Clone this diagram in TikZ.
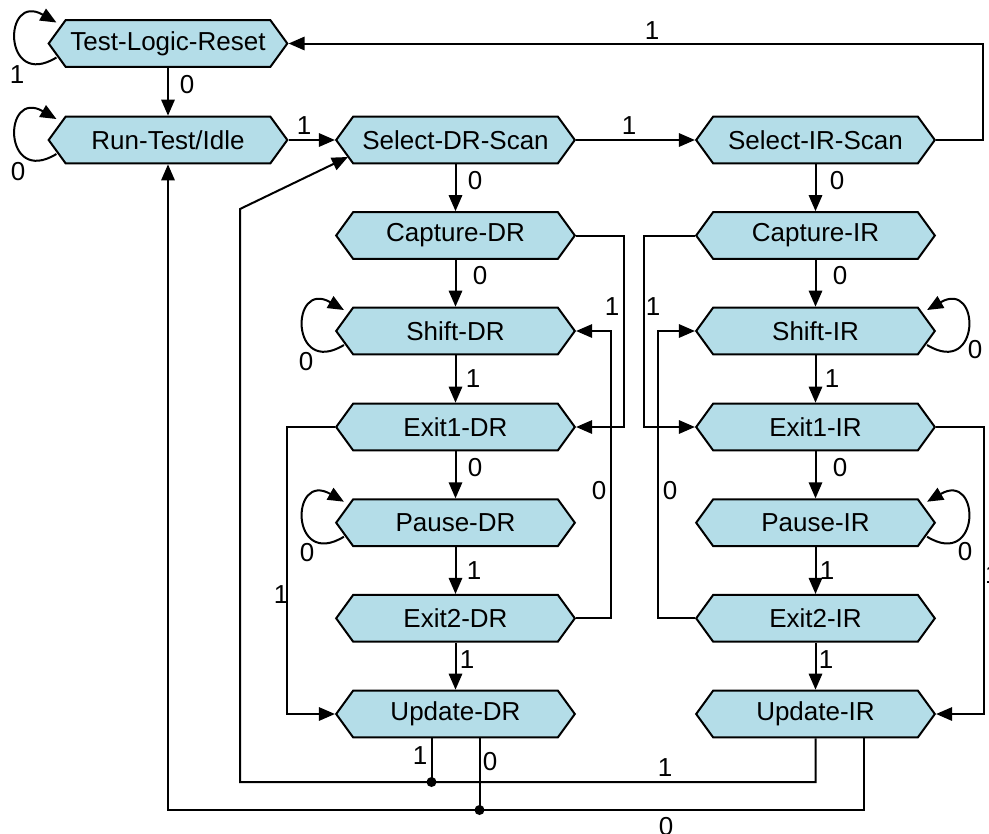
\documentclass[tikz,border=0pt]{standalone}
\usepackage{fontspec}
\setmainfont{Liberation Sans}
\usetikzlibrary{shapes.symbols,arrows.meta,calc}
\definecolor{stateblue}{RGB}{180,221,232}
\tikzset{every picture/.style={line width=1.5pt}}
\tikzset{
  state/.style={signal, signal to=east and west, signal pointer angle=108, draw, fill=stateblue,
    minimum width=179pt, minimum height=35pt, inner sep=0pt, font=\fontsize{19.5}{23}\selectfont},
  lbl/.style={inner sep=0.75pt, font=\fontsize{19.5}{23}\selectfont},
  arr/.style={-{Triangle[length=12pt,width=10pt]}},
}
\begin{document}
\begin{tikzpicture}[x=0.75pt,y=0.75pt,yscale=-1,xscale=1]
	\useasboundingbox (0,0) rectangle (989,833);
	
	%States
	\node[state] (tlr) at (168,43.5) {Test-Logic-Reset};
	\node[state] (rti) at (168,140) {Run-Test/Idle};
	\node[state] (sdr) at (455.5,140) {Select-DR-Scan};
	\node[state] (sir) at (815.5,140) {Select-IR-Scan};
	\node[state] (cdr) at (455.5,235.5) {Capture-DR};
	\node[state] (cir) at (815.5,235.5) {Capture-IR};
	\node[state] (shdr) at (455.5,331) {Shift-DR};
	\node[state] (shir) at (815.5,331) {Shift-IR};
	\node[state] (e1dr) at (455.5,427) {Exit1-DR};
	\node[state] (e1ir) at (815.5,427) {Exit1-IR};
	\node[state] (pdr) at (455.5,522.7) {Pause-DR};
	\node[state] (pir) at (815.5,522.7) {Pause-IR};
	\node[state] (e2dr) at (455.5,618.3) {Exit2-DR};
	\node[state] (e2ir) at (815.5,618.3) {Exit2-IR};
	\node[state] (udr) at (455.5,714) {Update-DR};
	\node[state] (uir) at (815.5,714) {Update-IR};
	\coordinate (dot1) at (431.5,782);
	\coordinate (dot0) at (479.5,810);
	
	%Self loops
	\foreach \n in {tlr,rti,shdr,pdr}
		\draw[arr] ($(\n.west)+(9,14)$) .. controls +(-54,33) and +(-54,-31) .. ($(\n.west)+(9,-21)$);
	\foreach \n in {shir,pir}
		\draw[arr] ($(\n.east)+(-9,14)$) .. controls +(54,33) and +(54,-31) .. ($(\n.east)+(-9,-21)$);
	
	%Straight steps
	\foreach \a/\b in {tlr/rti,sdr/cdr,cdr/shdr,shdr/e1dr,e1dr/pdr,pdr/e2dr,e2dr/udr,
		sir/cir,cir/shir,shir/e1ir,e1ir/pir,pir/e2ir,e2ir/uir}
		\draw[arr] (\a.south) -- (\b.north);
	\draw[arr] (rti.east) -- (sdr.west);
	\draw[arr] (sdr.east) -- (sir.west);
	
	%Side returns
	\draw[arr] (sir.east) -- ++(47,0) |- (tlr.east);
	\draw[arr] (cdr.east) -- ++(48,0) |- (e1dr.east);
	\draw[arr] (e2dr.east) -- ++(35,0) |- (shdr.east);
	\draw[arr] (e1dr.west) -- ++(-48,0) |- (udr.west);
	\draw[arr] (cir.west) -- ++(-51,0) |- (e1ir.west);
	\draw[arr] (e2ir.west) -- ++(-37,0) |- (shir.west);
	\draw[arr] (e1ir.east) -- ++(48,0) |- (uir.east);
	
	%Update returns
	\draw ($(udr.south)+(-24,0)$) -- (dot1);
	\draw ($(udr.south)+(24,0)$) -- (dot0);
	\draw[arr] (uir.south) |- (dot1) -| (240,209) -- ($(sdr.west)+(13,17)$);
	\draw[arr] ($(uir.south)+(48,0)$) |- (dot0) -| (rti.south);
	\fill (dot1) circle (5);
	\fill (dot0) circle (5);
	
	%Labels
	\node[lbl] at (17,75) {1};
	\node[lbl] at (187,85) {0};
	\node[lbl] at (18,172) {0};
	\node[lbl] at (304,126) {1};
	\node[lbl] at (629,126) {1};
	\node[lbl] at (652,31) {1};
	\node[lbl] at (475,181) {0};
	\node[lbl] at (480,276) {0};
	\node[lbl] at (612,307) {1};
	\node[lbl] at (306,362) {0};
	\node[lbl] at (473,379) {1};
	\node[lbl] at (475,468) {0};
	\node[lbl] at (599,491) {0};
	\node[lbl] at (281,595) {1};
	\node[lbl] at (307,553) {0};
	\node[lbl] at (474,571) {1};
	\node[lbl] at (467,660) {1};
	\node[lbl] at (420,756) {1};
	\node[lbl] at (490,762) {0};
	\node[lbl] at (837,181) {0};
	\node[lbl] at (840,276) {0};
	\node[lbl] at (653,307) {1};
	\node[lbl] at (975,350) {0};
	\node[lbl] at (832,379) {1};
	\node[lbl] at (840,468) {0};
	\node[lbl] at (670,491) {0};
	\node[lbl] at (965,552) {0};
	\node[lbl] at (827,571) {1};
	\node[lbl] at (826,660) {1};
	\node[lbl] at (665,768) {1};
	\node[lbl] at (666,827) {0};
	\node[lbl,anchor=west,inner sep=0pt] at (984,575) {1};
	
\end{tikzpicture}
\end{document}
